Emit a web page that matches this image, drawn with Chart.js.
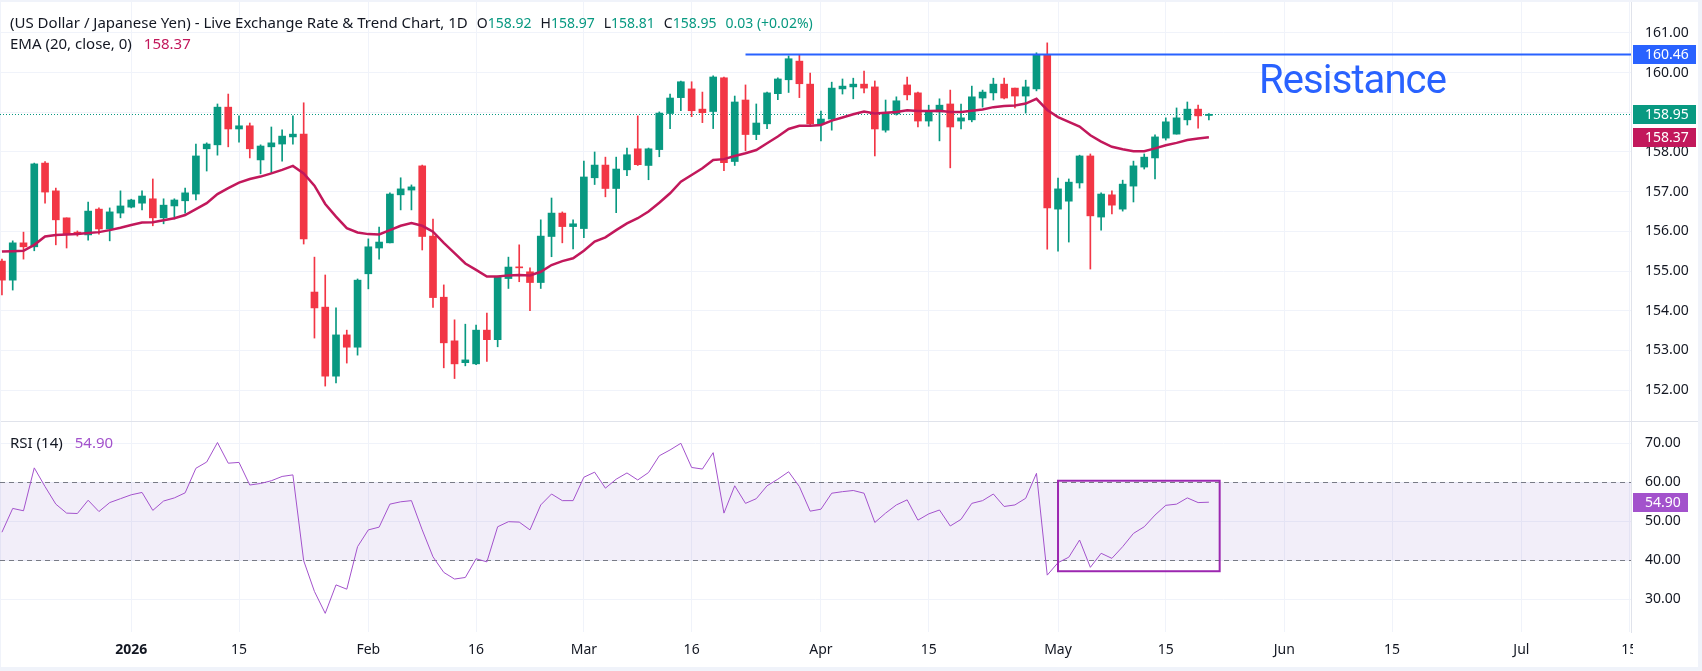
<!DOCTYPE html>
<html>
<head>
<meta charset="utf-8">
<script src="https://cdn.jsdelivr.net/npm/chart.js@4.4.1/dist/chart.umd.min.js"></script>
<style>
  html, body { margin: 0; padding: 0; }
  body { width: 1702px; height: 671px; background: #F0F3FA; position: relative; overflow: hidden;
         font-family: "Noto Sans", Roboto, sans-serif; color: #131722; }
  #frame { position: absolute; left: 1px; top: 2px; width: 1697px; height: 665px; background: #fff; }
  canvas { position: absolute; left: 0; }
  #price { top: 0; }
  #rsi { top: 422px; }
  .sep { position: absolute; left: 1px; top: 421px; width: 1697px; height: 1px; background: #E0E3EB; }
  .legend { position: absolute; left: 10px; font-size: 15px; line-height: 20px; white-space: pre; }
  .legend span { margin-left: 12px; }
  .legend span.first { margin-left: 0; }
  .legend span.v { font-size: 14px; margin-left: 9px; }
  .legend b { font-weight: normal; }
  .up { color: #089981; }
  .ema { color: #C2185B; }
  .rsiv { color: #A352CC; }
  #resistance { position: absolute; left: 1259px; top: 60px; font-family: Roboto, sans-serif; font-size: 40px;
                line-height: 40px; letter-spacing: -0.9px; color: #2962FF; }
</style>
</head>
<body>
<div id="frame"></div>
<canvas id="price" width="1702" height="421"></canvas>
<div class="sep"></div>
<canvas id="rsi" width="1702" height="245"></canvas>
<div class="legend" id="title" style="top:12px"></div>
<div class="legend" id="emaLegend" style="top:33px"></div>
<div class="legend" id="rsiLegend" style="top:432px"></div>
<div id="resistance">Resistance</div>
<script>
// daily bars, 16 Dec 2025 .. 21 May 2026 (weekdays)
const firstBarDate = '2025-12-16';
const opens = [
  155.25,154.77,155.71,155.61,157.72,157.02,156.34,155.98,155.91,156.56,156.06,156.46,
  156.61,156.71,156.82,156.34,156.64,156.77,156.94,158.08,158.18,159.13,
  158.58,158.66,157.80,158.13,158.20,158.38,158.45,154.47,154.09,152.35,
  153.39,153.08,154.93,155.58,155.71,156.92,157.04,157.65,155.88,154.34,
  153.24,152.69,152.66,153.51,153.27,154.81,155.10,154.98,154.71,155.87,
  156.46,156.12,156.07,157.35,157.67,157.08,157.55,158.08,157.66,158.06,
  158.97,159.37,159.59,159.08,159.02,159.87,157.76,159.31,158.44,158.71,
  159.47,159.82,160.29,159.71,158.71,158.83,159.59,159.64,159.71,159.64,
  158.55,158.96,159.69,159.49,158.78,159.01,159.21,158.78,158.81,159.36,
  159.49,159.71,159.61,159.41,159.59,160.45,156.56,156.76,157.22,157.90,
  156.36,156.92,156.56,157.14,157.62,157.85,158.35,158.45,158.81,159.08,158.92
];
const highs = [
  155.30,155.76,155.98,157.72,157.76,157.09,156.34,156.01,156.74,156.59,156.59,157.02,
  156.81,157.02,157.32,156.82,156.82,157.09,158.20,158.23,159.21,159.46,
  158.91,158.73,158.18,158.63,158.56,158.91,159.24,155.35,154.90,154.07,
  153.51,154.80,155.81,156.11,156.97,157.35,157.17,157.67,156.31,154.65,
  153.77,153.66,153.64,153.94,154.87,155.35,155.66,155.08,156.29,156.84,
  156.49,156.29,157.77,158.00,157.87,157.87,158.10,158.91,158.10,159.01,
  159.46,159.79,159.77,159.51,159.92,159.89,159.41,159.69,159.21,159.51,
  159.87,160.42,160.45,159.99,159.03,159.76,159.84,159.86,160.04,159.79,
  159.31,159.39,159.89,159.51,159.18,159.34,159.56,159.21,159.66,159.56,
  159.86,159.86,159.61,159.81,160.50,160.75,157.34,157.32,157.92,157.95,
  156.97,157.02,157.29,157.77,157.95,158.43,158.86,159.11,159.26,159.18,158.97
];
const lows = [
  154.40,154.52,155.30,155.51,156.71,155.66,155.58,155.88,155.78,155.93,155.76,156.34,
  156.59,156.54,156.14,156.19,156.31,156.46,156.79,157.52,157.92,158.13,
  158.25,157.85,157.45,157.47,157.77,158.20,155.68,153.31,152.10,152.18,
  152.68,152.88,154.55,155.30,155.71,156.54,156.54,155.53,154.08,152.56,
  152.29,152.61,152.64,152.72,153.09,154.56,154.73,154.00,154.56,155.36,
  155.71,155.56,155.84,157.18,156.87,156.47,157.40,157.66,157.30,157.88,
  158.59,159.04,158.89,158.74,158.59,157.53,157.66,158.03,158.31,158.59,
  159.32,159.50,159.37,158.66,158.28,158.55,159.46,159.34,159.49,157.90,
  158.50,158.93,159.31,158.63,158.65,158.28,157.60,158.58,158.76,159.13,
  159.31,159.34,159.11,158.98,159.54,155.55,155.50,155.73,157.09,155.05,
  156.03,156.44,156.51,156.74,157.57,157.32,158.30,158.45,158.68,158.60,158.81
];
const closes = [
  154.77,155.71,155.61,157.70,156.99,156.29,155.93,155.93,156.51,156.06,156.49,156.64,
  156.79,156.89,156.34,156.66,156.79,156.97,157.90,158.20,159.13,158.58,
  158.66,158.08,158.15,158.23,158.40,158.45,155.81,154.07,152.35,153.39,
  153.08,154.77,155.61,155.73,156.94,157.07,157.12,155.87,154.33,153.19,
  152.66,152.76,153.51,153.27,154.85,155.10,155.08,154.71,155.88,156.46,
  156.12,156.19,157.37,157.67,157.08,157.57,157.93,157.68,158.08,158.98,
  159.36,159.77,159.04,158.99,159.89,157.73,159.26,158.44,158.73,159.49,
  159.84,160.35,159.72,158.71,158.83,159.61,159.66,159.71,159.61,158.58,
  158.98,159.29,159.44,158.78,159.03,159.18,158.63,158.86,159.39,159.51,
  159.71,159.36,159.41,159.64,160.45,156.59,157.07,157.24,157.90,156.39,
  156.94,156.66,157.19,157.65,157.87,158.38,158.76,158.86,159.08,158.91,158.95
];
// EMA(20)
const ema20 = [
  155.49,155.50,155.51,155.66,155.87,155.91,155.92,155.93,155.96,155.98,156.03,156.09,
  156.16,156.22,156.23,156.28,156.33,156.41,156.56,156.71,156.94,157.09,
  157.23,157.32,157.38,157.46,157.55,157.65,157.46,157.15,156.69,156.37,
  156.08,155.97,155.93,155.92,156.03,156.14,156.21,156.14,155.99,155.71,
  155.45,155.19,155.03,154.86,154.86,154.89,154.90,154.89,154.98,155.15,
  155.25,155.32,155.51,155.74,155.85,156.03,156.20,156.33,156.50,156.72,
  156.96,157.25,157.42,157.59,157.80,157.82,157.90,157.97,158.05,158.22,
  158.39,158.58,158.66,158.66,158.68,158.79,158.87,158.95,159.02,158.97,
  158.99,159.01,159.05,159.03,159.03,159.04,159.01,159.01,159.04,159.07,
  159.13,159.16,159.17,159.22,159.34,159.06,158.88,158.76,158.64,158.42,
  158.26,158.13,158.07,158.02,158.02,158.09,158.17,158.23,158.30,158.34,158.37
];
// RSI(14)
const rsi14 = [
  47.2,53.3,52.7,63.7,58.9,54.4,52.1,52.0,55.4,52.5,54.8,55.8,
  56.8,57.4,52.8,55.2,56.0,57.3,63.6,65.2,70.2,64.9,
  65.1,59.3,59.7,60.4,61.5,61.9,39.9,32.0,26.4,33.7,
  32.6,43.5,47.8,48.5,54.4,55.0,55.3,47.8,40.9,36.9,
  35.2,35.6,40.4,39.6,48.6,49.9,49.8,47.8,54.2,57.0,
  55.3,55.3,61.3,62.6,58.5,60.8,62.4,60.6,62.5,66.8,
  68.3,70.0,63.8,63.4,67.6,52.1,59.1,54.6,55.8,59.1,
  60.8,62.7,58.9,52.6,53.1,57.2,57.6,57.9,57.2,49.7,
  52.1,54.2,55.5,50.3,51.9,52.9,48.8,50.5,54.6,55.3,
  57.0,53.8,54.2,55.9,62.3,36.2,39.4,40.8,45.2,38.2,
  41.8,40.5,43.5,46.9,48.6,51.6,54.1,54.4,56.0,54.8,54.90
];

const tickDates  = ['2026-01-01','2026-01-15','2026-02-02','2026-02-16','2026-03-02','2026-03-16','2026-04-01',
                    '2026-04-15','2026-05-01','2026-05-15','2026-06-01','2026-06-15','2026-07-01','2026-07-15'];
const tickLabels = ['2026','15','Feb','16','Mar','16','Apr','15','May','15','Jun','15','Jul','15'];
const priceTicks = [152,153,154,155,156,157,158,159,160,161];
const rsiTicks = [30,40,50,60,70];

const resistanceLevel = 160.46;
const resistanceFrom = '2026-03-23';
const rsiBox = { from: '2026-05-01', to: '2026-05-22', top: 60.4, bottom: 37.2 };
const changeText = '0.03 (+0.02%)';

const GREEN = '#089981', RED = '#F23645', BLUE = '#2962FF', EMA_C = '#C2185B', RSI_C = '#A352CC';
const TEXT = '#131722', GRID = '#F0F3FA', AXIS_LINE = '#E0E3EB';
const FONT = '"Noto Sans", Roboto, sans-serif';

// weekday calendar for bar positions
const tradingDays = [];
for (let t = Date.parse(firstBarDate + 'T00:00:00Z'); t <= Date.parse('2026-07-31T00:00:00Z'); t += 86400000) {
  const wd = new Date(t).getUTCDay();
  if (wd !== 0 && wd !== 6) tradingDays.push(new Date(t).toISOString().slice(0, 10));
}
const barOf = d => tradingDays.indexOf(d);
const tickBars = tickDates.map(barOf);
const xMin = barOf('2026-01-01') - 12.18;
const xMax = barOf('2026-01-01') + 139.17;
const axisWidth = 71;
const last = closes.length - 1;

// legend text
document.getElementById('title').innerHTML =
  '<span class="first">(US Dollar / Japanese Yen) - Live Exchange Rate &amp; Trend Chart, 1D</span>' +
  '<span class="v">O<b class="up">' + opens[last].toFixed(2) + '</b></span>' +
  '<span class="v">H<b class="up">' + highs[last].toFixed(2) + '</b></span>' +
  '<span class="v">L<b class="up">' + lows[last].toFixed(2) + '</b></span>' +
  '<span class="v">C<b class="up">' + closes[last].toFixed(2) + '</b></span>' +
  '<span class="v up">' + changeText + '</span>';
document.getElementById('emaLegend').innerHTML =
  '<span class="first">EMA (20, close, 0)</span><span class="ema">' + ema20[last].toFixed(2) + '</span>';
document.getElementById('rsiLegend').innerHTML =
  '<span class="first">RSI (14)</span><span class="rsiv">' + rsi14[last].toFixed(2) + '</span>';

const bars = closes.map((c, i) => i);
const candleColors = closes.map((c, i) => c >= opens[i] ? GREEN : RED);

function xScaleBase(showLabels) {
  return {
    type: 'linear', min: xMin, max: xMax, offset: false,
    afterBuildTicks: s => { s.ticks = tickBars.map(v => ({ value: v })); },
    afterFit: s => { s.height = showLabels ? 35 : 0; s.paddingLeft = 0; s.paddingRight = 0; },
    ticks: {
      display: showLabels, autoSkip: false, maxRotation: 0, padding: 10, color: TEXT,
      font: ctx => ({ family: FONT, size: 14, weight: ctx.tick && ctx.tick.value === tickBars[0] ? 'bold' : 'normal' }),
      callback: (v) => tickLabels[tickBars.indexOf(v)]
    },
    grid: { color: GRID, drawTicks: false, offset: false },
    border: { display: false }
  };
}

function yScaleBase(min, max, ticks) {
  return {
    position: 'right', min: min, max: max,
    afterBuildTicks: s => { s.ticks = ticks.map(v => ({ value: v })); },
    afterFit: s => { s.width = axisWidth; s.paddingTop = 0; s.paddingBottom = 0; },
    ticks: { padding: 14, color: TEXT, font: { family: FONT, size: 14 }, callback: v => v.toFixed(2) },
    grid: { color: GRID, drawTicks: false },
    border: { color: AXIS_LINE }
  };
}

function drawTag(ctx, area, y, text, color, w) {
  ctx.save();
  ctx.fillStyle = color;
  ctx.fillRect(area.right + 2, Math.round(y - 9.5), w, 19);
  ctx.fillStyle = '#fff';
  ctx.font = '14px ' + FONT;
  ctx.textBaseline = 'middle';
  ctx.textAlign = 'left';
  ctx.fillText(text, area.right + 14, y + 0.5);
  ctx.restore();
}

const priceOverlay = {
  id: 'priceOverlay',
  beforeDatasetsDraw(chart) {
    const { ctx, chartArea: a, scales: { y } } = chart;
    const yc = Math.round(y.getPixelForValue(closes[last])) + 0.5;
    ctx.save();
    ctx.strokeStyle = GREEN;
    ctx.lineWidth = 1;
    ctx.setLineDash([1, 2]);
    ctx.beginPath();
    ctx.moveTo(a.left, yc);
    ctx.lineTo(a.right, yc);
    ctx.stroke();
    ctx.restore();
  },
  afterDraw(chart) {
    const { ctx, chartArea: a, scales: { y } } = chart;
    drawTag(ctx, a, y.getPixelForValue(resistanceLevel), resistanceLevel.toFixed(2), BLUE, 63);
    drawTag(ctx, a, y.getPixelForValue(closes[last]), closes[last].toFixed(2), GREEN, 63);
    drawTag(ctx, a, y.getPixelForValue(ema20[last]), ema20[last].toFixed(2), EMA_C, 63);
  }
};

new Chart(document.getElementById('price'), {
  type: 'bar',
  data: {
    datasets: [
      { type: 'line', order: 0, data: bars.map(i => ({ x: i, y: ema20[i] })),
        borderColor: EMA_C, borderWidth: 2.5, pointRadius: 0, tension: 0 },
      { type: 'line', order: 0,
        data: [{ x: barOf(resistanceFrom), y: resistanceLevel }, { x: xMax, y: resistanceLevel }],
        borderColor: BLUE, borderWidth: 2, pointRadius: 0 },
      { order: 1, data: bars.map(i => ({ x: i, y: [opens[i], closes[i]] })),
        backgroundColor: candleColors, barThickness: 7, minBarLength: 1, grouped: false, borderWidth: 0 },
      { order: 2, data: bars.map(i => ({ x: i, y: [lows[i], highs[i]] })),
        backgroundColor: candleColors, barThickness: 1, grouped: false, borderWidth: 0 }
    ]
  },
  options: {
    responsive: false, animation: false, events: [],
    layout: { padding: { top: 2, left: 0, right: 0, bottom: 0 } },
    plugins: { legend: { display: false }, tooltip: { enabled: false } },
    scales: {
      x: xScaleBase(false),
      y: yScaleBase(151.22, 161.78, priceTicks)
    }
  },
  plugins: [priceOverlay]
});

const rsiOverlay = {
  id: 'rsiOverlay',
  beforeDatasetsDraw(chart) {
    const { ctx, chartArea: a, scales: { y } } = chart;
    const y60 = Math.round(y.getPixelForValue(60)) + 0.5;
    const y40 = Math.round(y.getPixelForValue(40)) + 0.5;
    ctx.save();
    ctx.fillStyle = 'rgba(126, 87, 194, 0.1)';
    ctx.fillRect(a.left, y60, a.right - a.left, y40 - y60);
    ctx.strokeStyle = '#787B86';
    ctx.lineWidth = 1;
    ctx.setLineDash([5, 4]);
    [y60, y40].forEach(yy => {
      ctx.beginPath();
      ctx.moveTo(a.left, yy);
      ctx.lineTo(a.right, yy);
      ctx.stroke();
    });
    ctx.restore();
  },
  afterDraw(chart) {
    const { ctx, chartArea: a, scales: { x, y } } = chart;
    // boxed area
    const x1 = x.getPixelForValue(barOf(rsiBox.from)), x2 = x.getPixelForValue(barOf(rsiBox.to));
    const y1 = y.getPixelForValue(rsiBox.top), y2 = y.getPixelForValue(rsiBox.bottom);
    ctx.save();
    ctx.strokeStyle = '#9C27B0';
    ctx.lineWidth = 2;
    ctx.strokeRect(x1, y1, x2 - x1, y2 - y1);
    // time labels are cut at the price scale
    ctx.fillStyle = '#fff';
    ctx.fillRect(a.right + 2, a.bottom + 1, chart.width - a.right - 6, 32);
    ctx.restore();
    drawTag(ctx, a, y.getPixelForValue(rsi14[last]), rsi14[last].toFixed(2), RSI_C, 55);
  }
};

new Chart(document.getElementById('rsi'), {
  type: 'line',
  data: {
    datasets: [
      { data: bars.map(i => ({ x: i, y: rsi14[i] })), borderColor: RSI_C, borderWidth: 1, pointRadius: 0, tension: 0 }
    ]
  },
  options: {
    responsive: false, animation: false, events: [],
    layout: { padding: 0 },
    plugins: { legend: { display: false }, tooltip: { enabled: false } },
    scales: {
      x: xScaleBase(true),
      y: yScaleBase(21.62, 75.46, rsiTicks)
    }
  },
  plugins: [rsiOverlay]
});
</script>
</body>
</html>
